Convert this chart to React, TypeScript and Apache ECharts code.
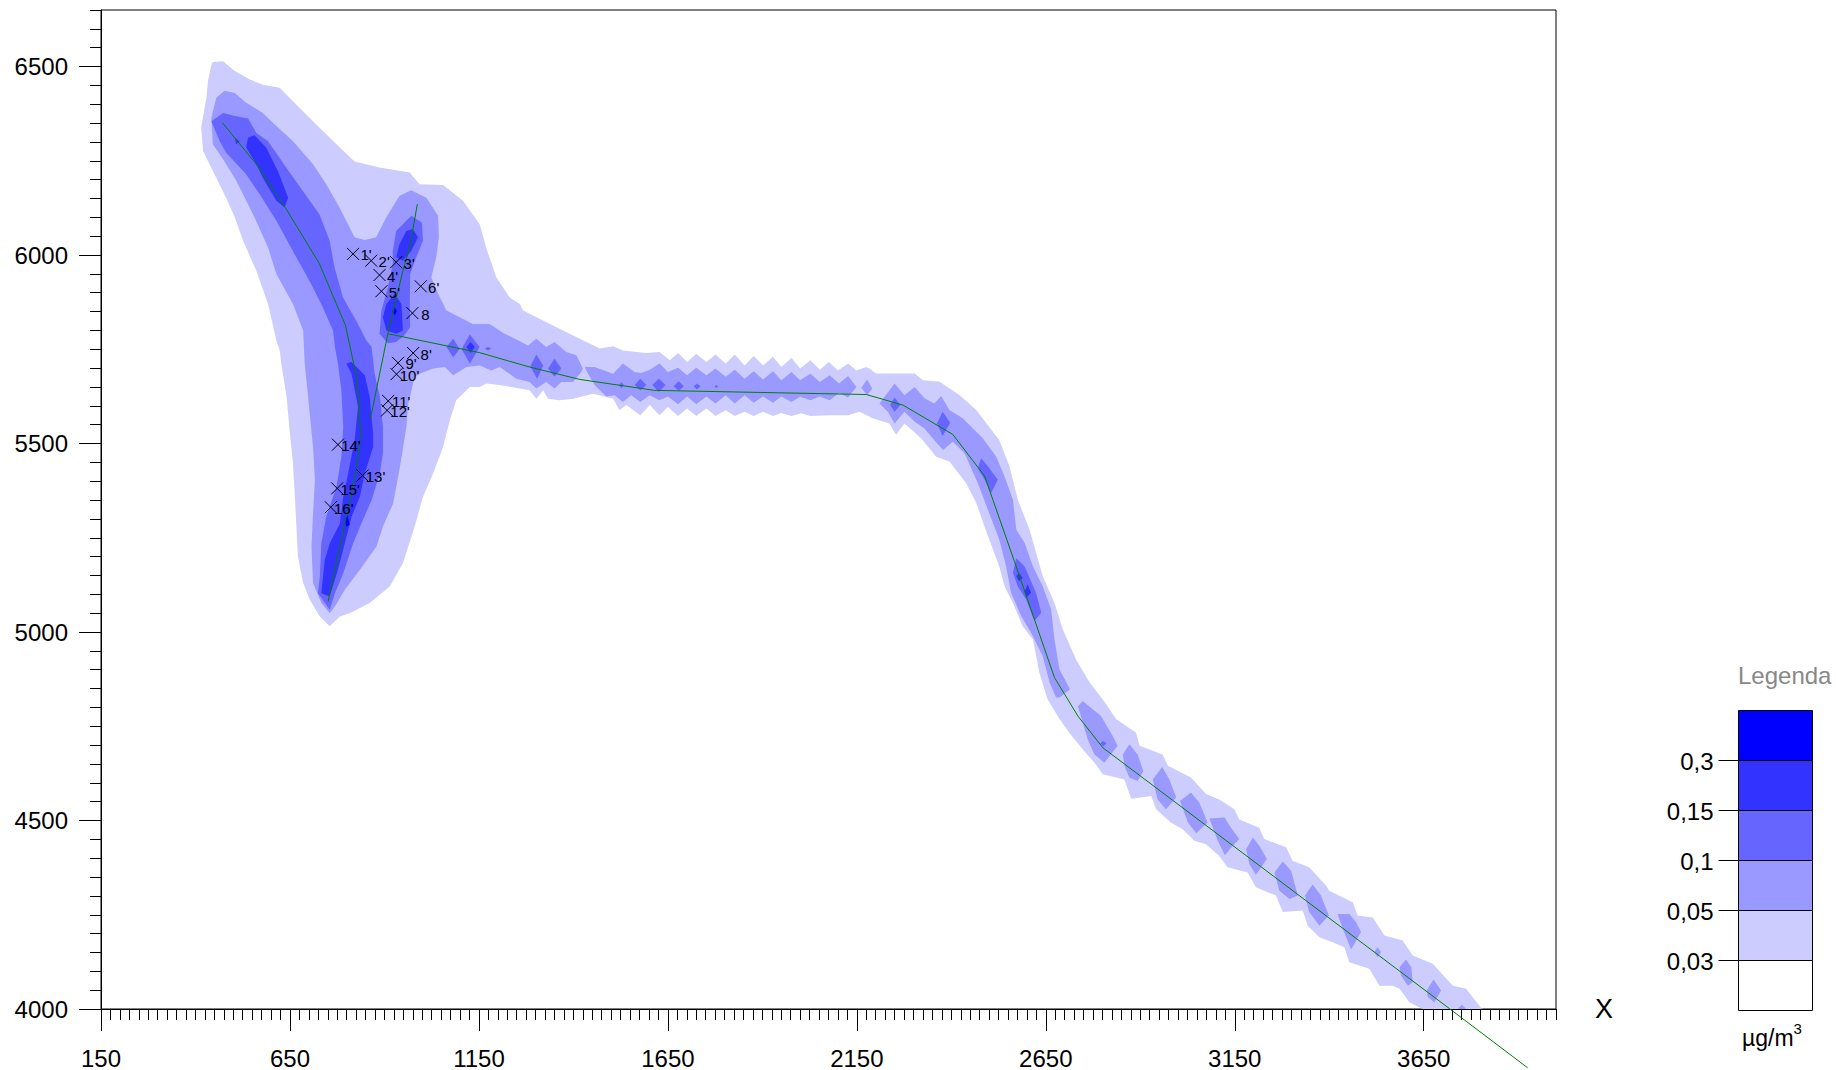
import React, { useEffect, useRef } from "react";
import * as echarts from "echarts";

const FONT = '"Liberation Sans", Arial, sans-serif';

const xMajorTicks = [150, 650, 1150, 1650, 2150, 2650, 3150, 3650];
const yMajorTicks = [4000, 4500, 5000, 5500, 6000, 6500];
const xMinorTicks = Array.from({ length: 155 }, (_, i) => 150 + i * 25);
const yMinorTicks = Array.from({ length: 54 }, (_, i) => 4000 + i * 50);

const legendLabels = ["0,3", "0,15", "0,1", "0,05", "0,03"];
const levelColors = ["#0000FF", "#3333FF", "#6666FF", "#9999FF", "#CCCCFF", "#FFFFFF"];

const level003 = [
  [[433,6461],[442,6505],[446,6512],[473,6514],[504,6488],[543,6466],[578,6452],[623,6444],[662,6404],[711,6355],[773,6294],[821,6248],[887,6232],[967,6219],[993,6188],[1055,6186],[1108,6144],[1152,6082],[1169,6020],[1196,5941],[1231,5888],[1258,5870],[1267,5853],[1337,5818],[1390,5791],[1425,5774],[1470,5752],[1505,5758],[1531,5747],[1593,5740],[1628,5743],[1655,5721],[1677,5740],[1701,5716],[1725,5738],[1752,5716],[1776,5736],[1803,5712],[1827,5736],[1853,5707],[1877,5732],[1902,5707],[1928,5730],[1950,5703],[1977,5727],[2000,5699],[2027,5721],[2052,5696],[2076,5716],[2100,5694],[2127,5712],[2149,5694],[2175,5703],[2183,5699],[2201,5686],[2272,5686],[2303,5686],[2325,5668],[2369,5664],[2422,5628],[2466,5589],[2527,5509],[2554,5439],[2576,5351],[2607,5271],[2642,5148],[2673,5077],[2695,5007],[2730,4927],[2766,4866],[2801,4821],[2836,4769],[2889,4733],[2898,4698],[2959,4675],[2973,4645],[3034,4614],[3074,4570],[3109,4556],[3149,4530],[3162,4503],[3215,4481],[3228,4451],[3286,4429],[3303,4393],[3347,4376],[3392,4327],[3400,4314],[3462,4283],[3475,4248],[3515,4243],[3546,4195],[3594,4182],[3621,4142],[3674,4120],[3727,4062],[3762,4054],[3804,4000],[3647,4000],[3612,4018],[3586,4054],[3568,4062],[3533,4062],[3506,4107],[3453,4124],[3440,4164],[3409,4177],[3374,4190],[3343,4221],[3330,4261],[3277,4257],[3259,4301],[3206,4323],[3184,4362],[3131,4376],[3109,4406],[3074,4437],[3043,4446],[3012,4477],[2981,4495],[2942,4530],[2929,4565],[2876,4558],[2858,4609],[2801,4623],[2779,4653],[2752,4684],[2712,4733],[2686,4770],[2655,4821],[2633,4892],[2616,4980],[2589,5015],[2563,5077],[2541,5121],[2527,5174],[2497,5254],[2466,5342],[2439,5395],[2395,5452],[2360,5465],[2320,5514],[2276,5553],[2254,5523],[2236,5553],[2192,5567],[2157,5584],[2127,5575],[2078,5575],[2027,5573],[2003,5580],[1977,5573],[1950,5581],[1928,5573],[1902,5584],[1877,5573],[1853,5584],[1827,5573],[1803,5588],[1776,5573],[1752,5593],[1725,5573],[1701,5593],[1677,5573],[1650,5597],[1628,5575],[1602,5602],[1577,5575],[1540,5602],[1522,5588],[1505,5619],[1452,5632],[1399,5619],[1364,5615],[1333,5619],[1320,5641],[1302,5619],[1284,5641],[1258,5646],[1205,5655],[1170,5659],[1152,5650],[1126,5650],[1090,5615],[1073,5562],[1055,5491],[1029,5421],[1002,5359],[980,5280],[963,5227],[949,5183],[914,5121],[861,5077],[808,5050],[782,5041],[755,5015],[729,5041],[702,5086],[685,5130],[671,5200],[667,5280],[663,5359],[658,5447],[649,5535],[641,5624],[627,5712],[623,5747],[614,5773],[592,5870],[561,5958],[526,6038],[504,6100],[481,6152],[446,6223],[420,6276],[415,6338],[429,6417]],
];

const level005 = [
  [[442,6364],[455,6417],[477,6436],[504,6430],[534,6404],[578,6377],[609,6347],[658,6302],[711,6241],[746,6188],[781,6126],[821,6047],[848,6040],[878,6047],[905,6100],[940,6157],[971,6172],[1011,6152],[1042,6104],[1044,6047],[1037,5994],[1024,5941],[1042,5897],[1064,5853],[1099,5835],[1134,5817],[1178,5817],[1218,5791],[1227,5787],[1280,5760],[1302,5778],[1328,5756],[1350,5769],[1381,5743],[1408,5734],[1425,5699],[1421,5690],[1399,5663],[1368,5663],[1350,5646],[1328,5663],[1302,5646],[1284,5663],[1249,5672],[1205,5703],[1183,5694],[1152,5707],[1117,5703],[1082,5681],[1060,5703],[1029,5699],[993,5685],[980,5677],[963,5606],[958,5544],[941,5438],[923,5341],[896,5280],[879,5227],[835,5165],[795,5112],[769,5068],[755,5050],[733,5077],[711,5130],[707,5227],[711,5315],[716,5403],[711,5491],[698,5624],[689,5712],[685,5800],[658,5870],[614,5950],[592,6020],[556,6100],[508,6197],[473,6254],[446,6294]],
  [[1430,5703],[1456,5703],[1505,5685],[1531,5712],[1562,5690],[1580,5687],[1602,5696],[1628,5712],[1650,5690],[1677,5701],[1701,5681],[1725,5701],[1752,5681],[1776,5699],[1803,5677],[1827,5696],[1853,5672],[1877,5692],[1902,5670],[1928,5692],[1950,5668],[1977,5690],[2000,5668],[2027,5685],[2052,5663],[2078,5681],[2103,5659],[2127,5679],[2149,5650],[2127,5622],[2103,5634],[2078,5615],[2052,5625],[2027,5615],[2000,5624],[1977,5610],[1950,5625],[1928,5608],[1902,5625],[1877,5608],[1853,5628],[1827,5606],[1803,5628],[1776,5606],[1752,5625],[1725,5604],[1701,5625],[1677,5604],[1650,5625],[1628,5615],[1602,5628],[1577,5610],[1553,5628],[1531,5610],[1509,5628],[1487,5625],[1456,5655],[1434,5694]],
  [[2177,5670],[2191,5646],[2177,5628],[2162,5648]],
  [[2210,5606],[2250,5659],[2276,5628],[2303,5650],[2329,5620],[2355,5606],[2373,5626],[2395,5589],[2430,5567],[2483,5514],[2519,5465],[2541,5412],[2563,5351],[2572,5271],[2594,5236],[2616,5174],[2642,5121],[2664,5060],[2673,4980],[2686,4901],[2714,4848],[2686,4826],[2677,4826],[2660,4866],[2642,4936],[2611,4998],[2585,5042],[2558,5104],[2545,5174],[2527,5245],[2497,5324],[2470,5395],[2435,5474],[2404,5505],[2378,5483],[2355,5509],[2329,5540],[2303,5558],[2276,5584],[2250,5553],[2232,5584]],
  [[2735,4803],[2748,4817],[2796,4777],[2827,4724],[2840,4698],[2805,4653],[2779,4675],[2761,4715]],
  [[2854,4675],[2871,4702],[2893,4675],[2908,4631],[2893,4605],[2871,4614],[2858,4645]],
  [[2933,4609],[2958,4642],[2977,4609],[2995,4561],[2968,4530],[2946,4556]],
  [[3005,4552],[3034,4574],[3056,4548],[3078,4495],[3048,4466],[3026,4495]],
  [[3083,4505],[3123,4508],[3140,4481],[3162,4451],[3140,4428],[3124,4408],[3105,4446]],
  [[3180,4424],[3198,4455],[3215,4433],[3235,4398],[3206,4356],[3189,4384]],
  [[3255,4362],[3277,4391],[3299,4367],[3317,4301],[3295,4292],[3268,4314]],
  [[3336,4301],[3356,4330],[3378,4301],[3399,4248],[3374,4221],[3347,4257]],
  [[3422,4252],[3453,4252],[3471,4230],[3484,4204],[3458,4158],[3436,4212]],
  [[3519,4151],[3528,4164],[3537,4151],[3528,4137]],
  [[3586,4111],[3603,4131],[3617,4111],[3621,4071],[3608,4062],[3590,4089]],
  [[3658,4049],[3676,4078],[3696,4049],[3678,4017],[3661,4032]],
  [[3740,4000],[3751,4011],[3762,4000]],
];

const level01 = [
  [[473,6377],[504,6369],[539,6362],[561,6324],[592,6302],[640,6232],[684,6170],[728,6108],[755,6038],[768,5967],[790,5888],[830,5817],[852,5773],[866,5756],[874,5685],[888,5624],[896,5544],[896,5474],[888,5421],[866,5350],[839,5288],[817,5235],[791,5156],[769,5103],[755,5059],[724,5103],[729,5147],[733,5235],[746,5306],[773,5385],[786,5465],[791,5544],[786,5641],[777,5712],[769,5756],[764,5800],[737,5861],[706,5923],[662,6003],[614,6091],[570,6161],[534,6214],[481,6272],[464,6302],[442,6355]],
  [[931,6064],[971,6104],[999,6086],[1002,6038],[984,5994],[968,5950],[967,5861],[968,5809],[953,5787],[931,5769],[909,5766],[887,5791],[892,5853],[909,5914],[922,5976],[922,6011]],
  [[1064,5756],[1082,5778],[1099,5751],[1082,5729]],
  [[1104,5751],[1126,5789],[1152,5756],[1126,5712]],
  [[1174,5756],[1183,5752],[1174,5747],[1165,5752]],
  [[1302,5736],[1320,5707],[1304,5672],[1286,5705]],
  [[1350,5725],[1368,5699],[1350,5677],[1333,5699]],
  [[1527,5663],[1533,5655],[1527,5646],[1521,5655]],
  [[1577,5672],[1593,5655],[1577,5641],[1562,5655]],
  [[1626,5672],[1644,5655],[1626,5637],[1609,5655]],
  [[1679,5665],[1692,5652],[1679,5640],[1665,5652]],
  [[1727,5659],[1736,5652],[1727,5643],[1718,5652]],
  [[1778,5655],[1783,5651],[1778,5648],[1773,5651]],
  [[2250,5622],[2265,5602],[2250,5584],[2238,5602]],
  [[2377,5584],[2397,5555],[2377,5520],[2362,5553]],
  [[2479,5461],[2497,5439],[2523,5404],[2505,5368],[2488,5404],[2470,5434]],
  [[2572,5196],[2594,5174],[2624,5104],[2638,5051],[2620,5029],[2598,5086],[2576,5121],[2563,5157]],
  [[2802,4711],[2811,4705],[2802,4696],[2794,4705]],
];

const level015 = [
  [[539,6311],[556,6318],[587,6285],[618,6223],[645,6152],[636,6126],[614,6144],[578,6205],[561,6241],[534,6285]],
  [[504,6311],[517,6302],[508,6294]],
  [[958,6064],[975,6069],[989,6047],[971,6011],[949,5985],[931,5994],[940,6029]],
  [[905,5870],[927,5897],[945,5870],[949,5800],[931,5791],[905,5800],[896,5835]],
  [[799,5712],[813,5716],[848,5681],[861,5624],[870,5527],[870,5491],[848,5421],[835,5359],[813,5306],[795,5235],[777,5165],[755,5094],[733,5103],[742,5191],[755,5235],[782,5288],[791,5359],[804,5421],[821,5509],[830,5597],[813,5685]],
  [[1117,5756],[1128,5769],[1139,5756],[1128,5740]],
  [[2579,5157],[2589,5143],[2579,5135],[2572,5148]],
  [[2602,5126],[2611,5104],[2598,5090],[2594,5108]],
];

const level03 = [
  [[802,5310],[808,5284],[799,5280],[795,5297]],
  [[927,5861],[933,5851],[927,5840],[921,5851]],
];

const roadMain = [[471,6351],[561,6241],[640,6122],[728,5977],[797,5813],[828,5668],[837,5527],[826,5430],[799,5306],[751,5081]];
const roadBranch = [[987,6135],[967,6021],[949,5959],[909,5791],[863,5566]];
const roadEast = [[910,5791],[1152,5741],[1284,5703],[1417,5670],[1615,5641],[2175,5630],[2272,5602],[2404,5524],[2488,5414],[2567,5187],[2673,4879],[2735,4777],[2801,4693],[3718,4001],[3925,3844]];

const receptorNames = ["1'", "2'", "3'", "4'", "5'", "6'", "8", "8'", "9'", "10'", "11'", "12'", "14'", "13'", "15'", "16'"];
const receptorX = [817, 865, 931, 887, 892, 996, 974, 976, 936, 932, 910, 907, 777, 842, 775, 758];
const receptorY = [6003, 5985, 5981, 5947, 5904, 5917, 5846, 5740, 5714, 5684, 5613, 5588, 5497, 5415, 5381, 5331];

const fieldLayer = (polys: number[][][], color: string) => ({
  type: "custom",
  coordinateSystem: "cartesian2d",
  xAxisIndex: 0,
  yAxisIndex: 0,
  clip: true,
  silent: true,
  data: polys.map((p, i) => [p[0][0], p[0][1], i]),
  renderItem: (params: any, api: any) => ({
    type: "polygon",
    shape: { points: polys[params.dataIndex].map((p) => api.coord(p)) },
    style: { fill: color, stroke: "none" },
  }),
});

const roadLine = (points: number[][]) => ({
  type: "line",
  xAxisIndex: 0,
  yAxisIndex: 0,
  data: points,
  showSymbol: false,
  clip: false,
  silent: true,
  z: 5,
  lineStyle: { color: "#008000", width: 1 },
});

const legendGraphic = () => {
  const left = 1738.5;
  const width = 74;
  const top = 710.5;
  const step = 50;
  const items: any[] = [];
  levelColors.forEach((c, i) => {
    items.push({
      type: "rect",
      shape: { x: left, y: top + i * step, width, height: step },
      style: { fill: c, stroke: "#000", lineWidth: 1 },
    });
  });
  legendLabels.forEach((t, i) => {
    const y = top + (i + 1) * step;
    items.push({
      type: "line",
      shape: { x1: left - 20, y1: y, x2: left, y2: y },
      style: { stroke: "#000", lineWidth: 1 },
    });
    items.push({
      type: "text",
      x: left - 25,
      y: y + 1,
      style: { text: t, fontFamily: FONT, fontSize: 24, fill: "#000", align: "right", verticalAlign: "middle" },
    });
  });
  items.push({
    type: "text",
    x: 1738,
    y: 675,
    style: { text: "Legenda", fontFamily: FONT, fontSize: 24, fill: "#888888", align: "left", verticalAlign: "middle" },
  });
  items.push({
    type: "text",
    x: 1742,
    y: 1021,
    style: {
      rich: { n: { fontFamily: FONT, fontSize: 23, fill: "#000", verticalAlign: "bottom", lineHeight: 28 }, s: { fontFamily: FONT, fontSize: 15, fill: "#000", verticalAlign: "top", lineHeight: 28 } },
      text: "{n|µg/m}{s|3}",
      align: "left",
      verticalAlign: "top",
    },
  });
  return items;
};

export default function App() {
  const ref = useRef<HTMLDivElement>(null);
  useEffect(() => {
    const chart = echarts.init(ref.current!, null, { renderer: "svg" });
    const axisLine = { show: true, lineStyle: { color: "#000", width: 1 } };
    const labelStyle = { fontFamily: FONT, fontSize: 24, color: "#000" };
    chart.setOption({
      animation: false,
      backgroundColor: "#fff",
      grid: { left: 101, top: 10, width: 1455, height: 1001, show: true, borderColor: "#000", borderWidth: 1, backgroundColor: "transparent", containLabel: false },
      xAxis: [
        {
          type: "value", min: 150, max: 4000, position: "bottom", splitLine: { show: false }, axisLine,
          axisTick: { show: true, length: 22, customValues: xMajorTicks, lineStyle: { color: "#000" } },
          axisLabel: { ...labelStyle, margin: 37, customValues: xMajorTicks, formatter: (v: number) => String(v) },
          name: "X", nameLocation: "end", nameGap: 39, nameTextStyle: { fontFamily: FONT, fontSize: 27, color: "#000" },
        },
        {
          type: "value", min: 150, max: 4000, position: "bottom", splitLine: { show: false }, axisLine: { show: false },
          axisTick: { show: true, length: 11, customValues: xMinorTicks, lineStyle: { color: "#000" } },
          axisLabel: { show: false },
        },
      ],
      yAxis: [
        {
          type: "value", min: 4000, max: 6650, position: "left", splitLine: { show: false }, axisLine,
          axisTick: { show: true, length: 22, customValues: yMajorTicks, lineStyle: { color: "#000" } },
          axisLabel: { ...labelStyle, margin: 33, customValues: yMajorTicks, formatter: (v: number) => String(v) },
        },
        {
          type: "value", min: 4000, max: 6650, position: "left", splitLine: { show: false }, axisLine: { show: false },
          axisTick: { show: true, length: 11, customValues: yMinorTicks, lineStyle: { color: "#000" } },
          axisLabel: { show: false },
        },
      ],
      graphic: legendGraphic(),
      series: [
        fieldLayer(level003, levelColors[4]),
        fieldLayer(level005, levelColors[3]),
        fieldLayer(level01, levelColors[2]),
        fieldLayer(level015, levelColors[1]),
        fieldLayer(level03, levelColors[0]),
        roadLine(roadMain),
        roadLine(roadBranch),
        roadLine(roadEast),
        {
          type: "scatter",
          xAxisIndex: 0,
          yAxisIndex: 0,
          z: 6,
          silent: true,
          symbol: "path://M0 0L10 10M10 0L0 10",
          symbolSize: 12,
          itemStyle: { color: "transparent", borderColor: "#000", borderWidth: 1, opacity: 1 },
          label: { show: true, position: "inside", offset: [13, 1], formatter: "{b}", fontFamily: FONT, fontSize: 15, color: "#000" },
          data: receptorNames.map((n, i) => ({ name: n, value: [receptorX[i], receptorY[i]] })),
        },
      ],
    });
    return () => chart.dispose();
  }, []);
  return <div ref={ref} style={{ position: "absolute", left: 0, top: 0, width: 1836, height: 1070, background: "#fff" }} />;
}
